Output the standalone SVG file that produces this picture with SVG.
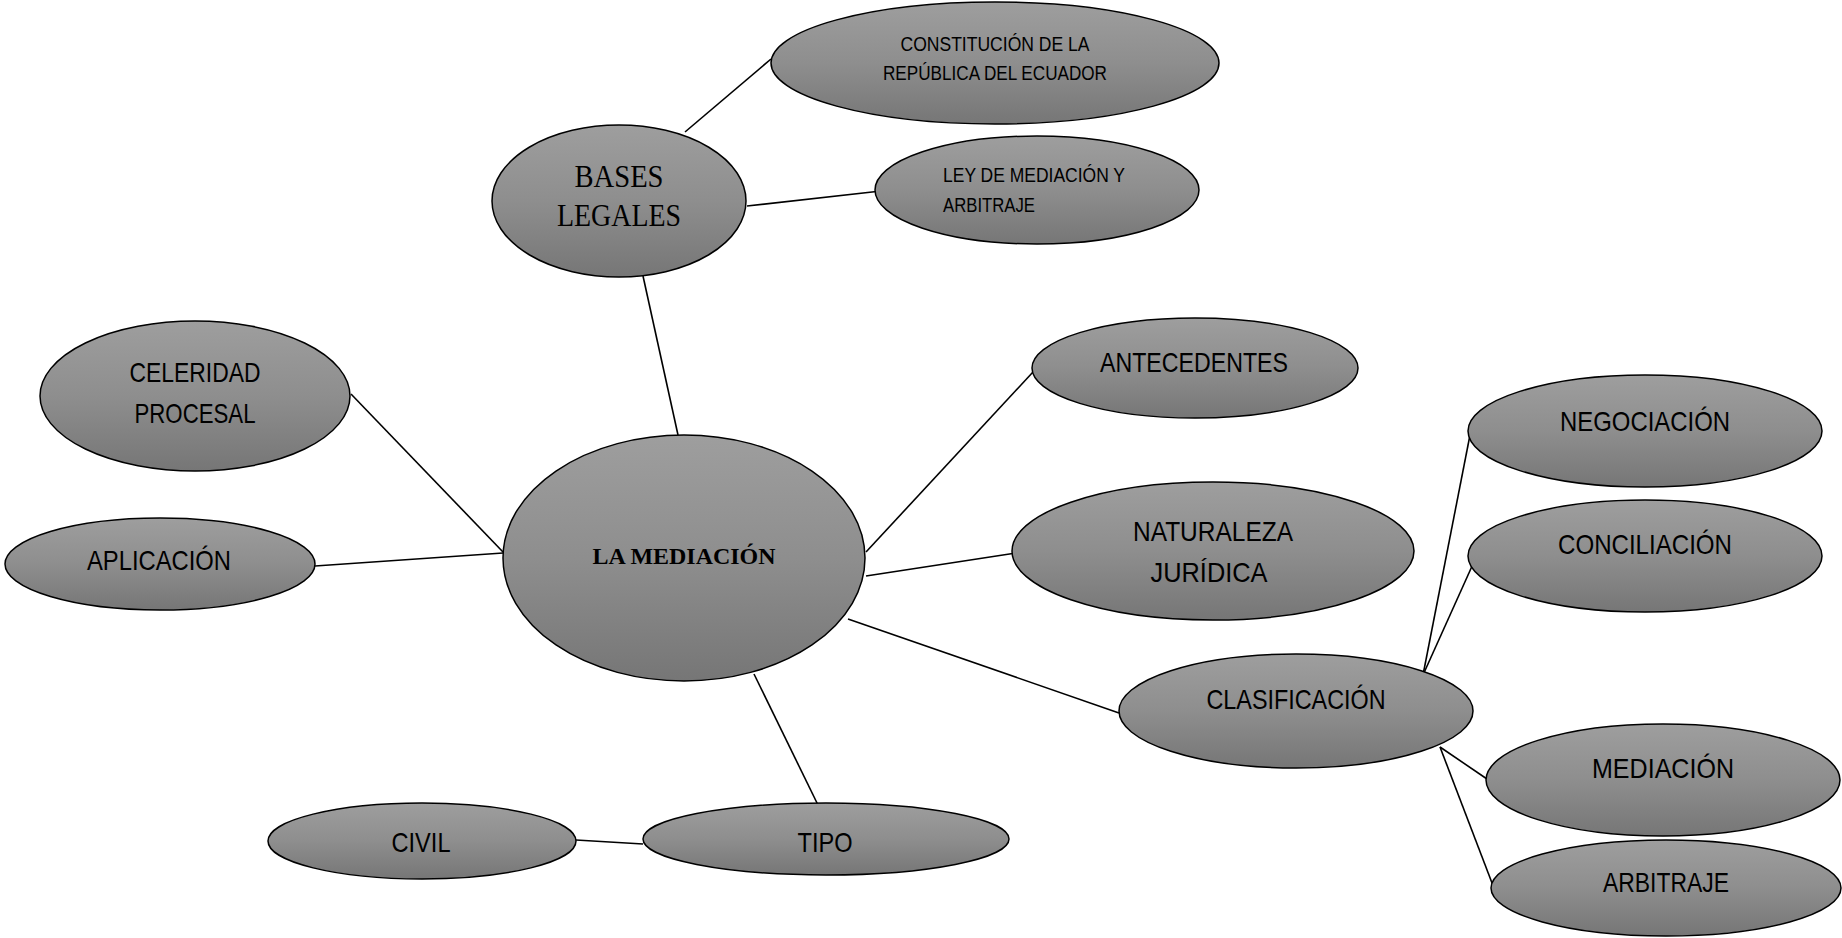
<svg xmlns="http://www.w3.org/2000/svg" width="1842" height="938" viewBox="0 0 1842 938">
<defs>
<linearGradient id="g" x1="0" y1="0" x2="0" y2="1">
<stop offset="0" stop-color="#9e9e9e"/>
<stop offset="0.5" stop-color="#8e8e8e"/>
<stop offset="1" stop-color="#767676"/>
</linearGradient>
<style>
.n{fill:url(#g);stroke:#000;stroke-width:1.5}
.c line{stroke:#000;stroke-width:1.6}
.t{font-family:"Liberation Sans",Arial,sans-serif;font-size:28px;fill:#000;text-anchor:middle}
.s{font-family:"Liberation Sans",Arial,sans-serif;font-size:20px;fill:#000}
.tr{font-family:"Liberation Serif","Times New Roman",serif;fill:#000;text-anchor:middle}
</style>
</defs>
<rect width="1842" height="938" fill="#fff"/>
<g class="c" id="connectors">
<line x1="685" y1="132" x2="771" y2="59"/>
<line x1="747" y1="206" x2="881" y2="191"/>
<line x1="643" y1="276" x2="678" y2="435"/>
<line x1="351" y1="394" x2="503" y2="552"/>
<line x1="315" y1="566" x2="503" y2="553"/>
<line x1="866" y1="552" x2="1033" y2="372"/>
<line x1="866" y1="576" x2="1016" y2="553"/>
<line x1="848" y1="619" x2="1119" y2="713"/>
<line x1="754" y1="674" x2="818" y2="805"/>
<line x1="576" y1="840" x2="643" y2="844"/>
<line x1="1423" y1="675" x2="1470" y2="435"/>
<line x1="1423" y1="675" x2="1473" y2="564"/>
<line x1="1440" y1="747" x2="1487" y2="779"/>
<line x1="1440" y1="747" x2="1497" y2="896"/>
</g>
<g id="constitucion">
<ellipse class="n" cx="995" cy="63" rx="224" ry="61"/>
<text class="s" x="995" y="51" text-anchor="middle" textLength="189" lengthAdjust="spacingAndGlyphs">CONSTITUCIÓN DE LA</text>
<text class="s" x="995" y="80" text-anchor="middle" textLength="224" lengthAdjust="spacingAndGlyphs">REPÚBLICA DEL ECUADOR</text>
</g>
<g id="bases">
<ellipse class="n" cx="619" cy="201" rx="127" ry="76"/>
<text class="tr" x="619" y="187" font-size="32" textLength="89" lengthAdjust="spacingAndGlyphs">BASES</text>
<text class="tr" x="619" y="226" font-size="32" textLength="124" lengthAdjust="spacingAndGlyphs">LEGALES</text>
</g>
<g id="ley">
<ellipse class="n" cx="1037" cy="190" rx="162" ry="54"/>
<text class="s" x="943" y="182" textLength="182" lengthAdjust="spacingAndGlyphs">LEY DE MEDIACIÓN Y</text>
<text class="s" x="943" y="212" textLength="92" lengthAdjust="spacingAndGlyphs">ARBITRAJE</text>
</g>
<g id="celeridad">
<ellipse class="n" cx="195" cy="396" rx="155" ry="75"/>
<text class="t" x="195" y="382" textLength="131" lengthAdjust="spacingAndGlyphs">CELERIDAD</text>
<text class="t" x="195" y="423" textLength="121" lengthAdjust="spacingAndGlyphs">PROCESAL</text>
</g>
<g id="aplicacion">
<ellipse class="n" cx="160" cy="564" rx="155" ry="46"/>
<text class="t" x="159" y="570" textLength="144" lengthAdjust="spacingAndGlyphs">APLICACIÓN</text>
</g>
<g id="mediacion-central">
<ellipse class="n" cx="684" cy="558" rx="181" ry="123"/>
<text class="tr" x="684" y="564" font-size="24" font-weight="bold" textLength="183" lengthAdjust="spacingAndGlyphs">LA MEDIACIÓN</text>
</g>
<g id="antecedentes">
<ellipse class="n" cx="1195" cy="368" rx="163" ry="50"/>
<text class="t" x="1194" y="372" textLength="188" lengthAdjust="spacingAndGlyphs">ANTECEDENTES</text>
</g>
<g id="naturaleza">
<ellipse class="n" cx="1213" cy="551" rx="201" ry="69"/>
<text class="t" x="1213" y="541" textLength="160" lengthAdjust="spacingAndGlyphs">NATURALEZA</text>
<text class="t" x="1209" y="582" textLength="117" lengthAdjust="spacingAndGlyphs">JURÍDICA</text>
</g>
<g id="clasificacion">
<ellipse class="n" cx="1296" cy="711" rx="177" ry="57"/>
<text class="t" x="1296" y="709" textLength="179" lengthAdjust="spacingAndGlyphs">CLASIFICACIÓN</text>
</g>
<g id="negociacion">
<ellipse class="n" cx="1645" cy="431" rx="177" ry="56"/>
<text class="t" x="1645" y="431" textLength="170" lengthAdjust="spacingAndGlyphs">NEGOCIACIÓN</text>
</g>
<g id="conciliacion">
<ellipse class="n" cx="1645" cy="556" rx="177" ry="56"/>
<text class="t" x="1645" y="554" textLength="174" lengthAdjust="spacingAndGlyphs">CONCILIACIÓN</text>
</g>
<g id="mediacion">
<ellipse class="n" cx="1663" cy="780" rx="177" ry="56"/>
<text class="t" x="1663" y="778" textLength="142" lengthAdjust="spacingAndGlyphs">MEDIACIÓN</text>
</g>
<g id="arbitraje">
<ellipse class="n" cx="1666" cy="888" rx="175" ry="48"/>
<text class="t" x="1666" y="892" textLength="126" lengthAdjust="spacingAndGlyphs">ARBITRAJE</text>
</g>
<g id="tipo">
<ellipse class="n" cx="826" cy="839" rx="183" ry="36"/>
<text class="t" x="825" y="852" textLength="55" lengthAdjust="spacingAndGlyphs">TIPO</text>
</g>
<g id="civil">
<ellipse class="n" cx="422" cy="841" rx="154" ry="38"/>
<text class="t" x="421" y="852" textLength="59" lengthAdjust="spacingAndGlyphs">CIVIL</text>
</g>
</svg>
